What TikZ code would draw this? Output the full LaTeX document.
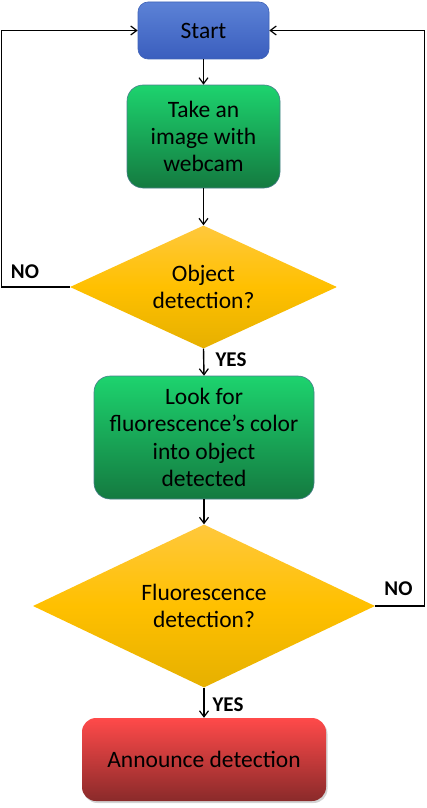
\documentclass[tikz,border=0pt]{standalone}
\usepackage{fontspec}
\setmainfont{Carlito}
\usetikzlibrary{shapes.geometric,arrows.meta,shadows}
\definecolor{bluetop}{HTML}{5C82D6}
\definecolor{bluebot}{HTML}{3A5EBE}
\definecolor{blueline}{HTML}{3F63B8}
\definecolor{greentop}{HTML}{1DD36E}
\definecolor{greenbot}{HTML}{147A40}
\definecolor{greenline}{HTML}{4A7F8C}
\definecolor{yeltop}{HTML}{FFC83C}
\definecolor{yelmid}{HTML}{FFC000}
\definecolor{yelbot}{HTML}{E6B000}
\definecolor{redtop}{HTML}{FF4A4A}
\definecolor{redbot}{HTML}{8A2A2A}
\tikzset{
  txt/.style={font=\fontsize{23.5}{27.3}\selectfont, align=center, text=black},
  lbl/.style={font=\fontsize{21}{25}\selectfont\bfseries, text=black, inner sep=0pt},
  startbox/.style={txt, rectangle, rounded corners=10pt, top color=bluetop, bottom color=bluebot, draw=blueline, line width=0.6pt, inner sep=0pt},
  greenbox/.style={txt, rectangle, rounded corners=16pt, top color=greentop, bottom color=greenbot, draw=greenline, line width=0.6pt, inner sep=0pt},
  redbox/.style={txt, rectangle, rounded corners=14pt, top color=redtop, bottom color=redbot, inner sep=0pt, drop shadow={shadow xshift=1.5pt, shadow yshift=-2pt, opacity=0.35}},
  decision/.style={txt, diamond, inner sep=0pt, top color=yeltop, bottom color=yelbot, middle color=yelmid},
  conn/.style={draw=black, line width=1.4pt, -{Straight Barb[length=6pt,width=9pt,line width=1.2pt]}},
  plainline/.style={draw=black, line width=1.4pt}
}
\begin{document}
\begin{tikzpicture}[x=1pt,y=-1pt]
\useasboundingbox (0,0) rectangle (426,808);
\node[startbox, minimum width=131pt, minimum height=57pt] (start) at (203.5,30.5) {Start};
\node[greenbox, minimum width=153pt, minimum height=103pt] (take) at (203.5,136.5) {Take an\\image with\\webcam};
\node[decision, shape aspect=2.17, minimum width=267pt, minimum height=123pt] (obj) at (203.5,287) {Object\\detection?};
\node[greenbox, minimum width=220pt, minimum height=123pt] (look) at (204,437.5) {Look for\\fluorescence’s color\\into object\\detected};
\node[decision, shape aspect=2.1, minimum width=342pt, minimum height=163pt] (fluo) at (204,606) {Fluorescence\\detection?};
\node[redbox, minimum width=244pt, minimum height=83pt] (ann) at (204,759.5) {Announce detection};

\coordinate (lb) at (1.5,287);
\coordinate (lt) at (1.5,30.5);
\coordinate (rb) at (424.5,606);
\coordinate (rt) at (424.5,30.5);

\draw[conn] (start.south) -- (take.north);
\draw[conn] (take.south) -- (obj.north);
\draw[conn] (obj.south) -- (look.north);
\draw[conn] (look.south) -- (fluo.north);
\draw[conn] (fluo.south) -- (ann.north);
\draw[plainline] (obj.west) -- (lb) -- (lt);
\draw[conn] (lt) -- (start.west);
\draw[plainline] (fluo.east) -- (rb) -- (rt);
\draw[conn] (rt) -- (start.east);

\node[lbl] (no1) at (25,272) {NO};
\node[lbl] (yes1) at (231,360) {YES};
\node[lbl] (no2) at (398.5,589) {NO};
\node[lbl] (yes2) at (228,705) {YES};
\end{tikzpicture}
\end{document}
